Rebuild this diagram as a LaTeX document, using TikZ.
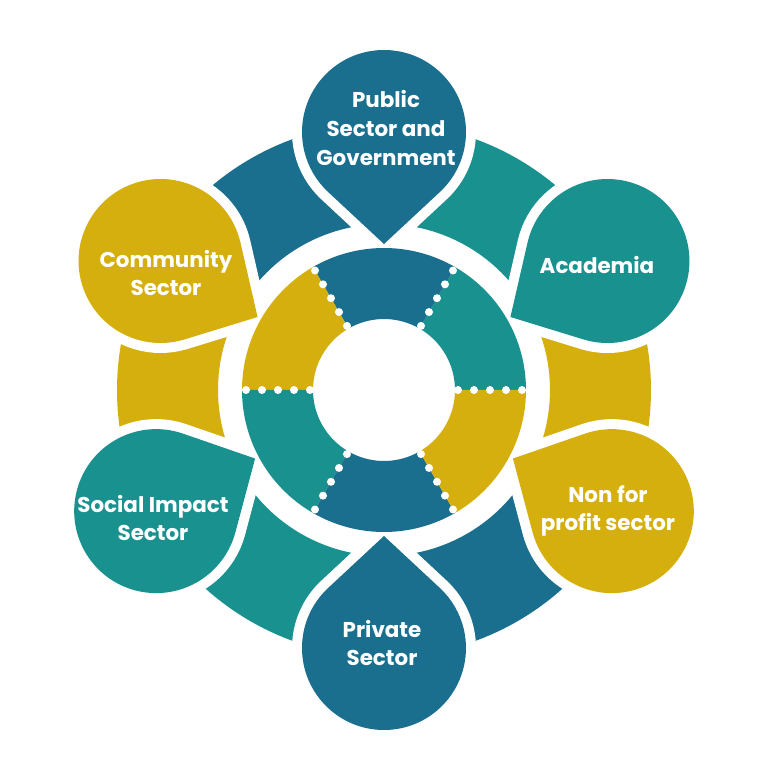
\documentclass[tikz,border=0pt]{standalone}
\usepackage{fontspec}
\setmainfont{Poppins}
\usepackage{xcolor}
\usepackage{tikz}
\definecolor{dblue}{HTML}{1A6E8E}
\definecolor{dteal}{HTML}{19918F}
\definecolor{dgold}{HTML}{D4AF0E}
\tikzset{
  drop/.style={fill=#1, preaction={draw=white, line width=20bp, line join=round}},
  dotw/.style={fill=white},
  lab/.style={text=white, align=center, font=\bfseries\fontsize{21.5}{29}\selectfont}
}
\begin{document}
\begin{tikzpicture}[x=1bp,y=1bp]
  \fill[white] (-384,-378) rectangle (384,390);

  \foreach \a/\c in {0/dgold,60/dteal,120/dblue,180/dgold,240/dteal,300/dblue}
    \fill[\c] (\a-30:166) arc[start angle=\a-30, end angle=\a+30, radius=166]
      -- (\a+30:267) arc[start angle=\a+30, end angle=\a-30, radius=267] -- cycle;

  \foreach \a/\c in {90/dblue,30/dteal,-28/dgold,-90/dblue,208/dteal,150/dgold}
    \path[drop=\c, rotate=\a, shift={(258,0)}] (-112,0) -- (223.5:82)
      arc[start angle=223.5, end angle=496.5, radius=82] -- cycle;

  \foreach \a/\c in {0/dteal,60/dblue,120/dgold,180/dteal,240/dblue,300/dgold}
    \fill[\c] (\a:71) arc[start angle=\a, end angle=\a+60, radius=71]
      -- (\a+60:142) arc[start angle=\a+60, end angle=\a, radius=142] -- cycle;
  \foreach \a in {0,60,...,300}
    \foreach \r in {74,90,...,138}
      \fill[dotw] (\a:\r) circle[radius=4];

  \node[lab] (pub) at (2,262) {Public\\Sector and\\Government};
  \node[lab] (aca) at (213,125) {Academia};
  \node[lab] (npf) at (224,-121) {Non for\\profit sector};
  \node[lab] (pri) at (-2,-253) {Private\\Sector};
  \node[lab] (com) at (-218,117) {Community\\Sector};
  \node[lab] (soc) at (-231,-128) {Social Impact\\Sector};
\end{tikzpicture}
\end{document}
